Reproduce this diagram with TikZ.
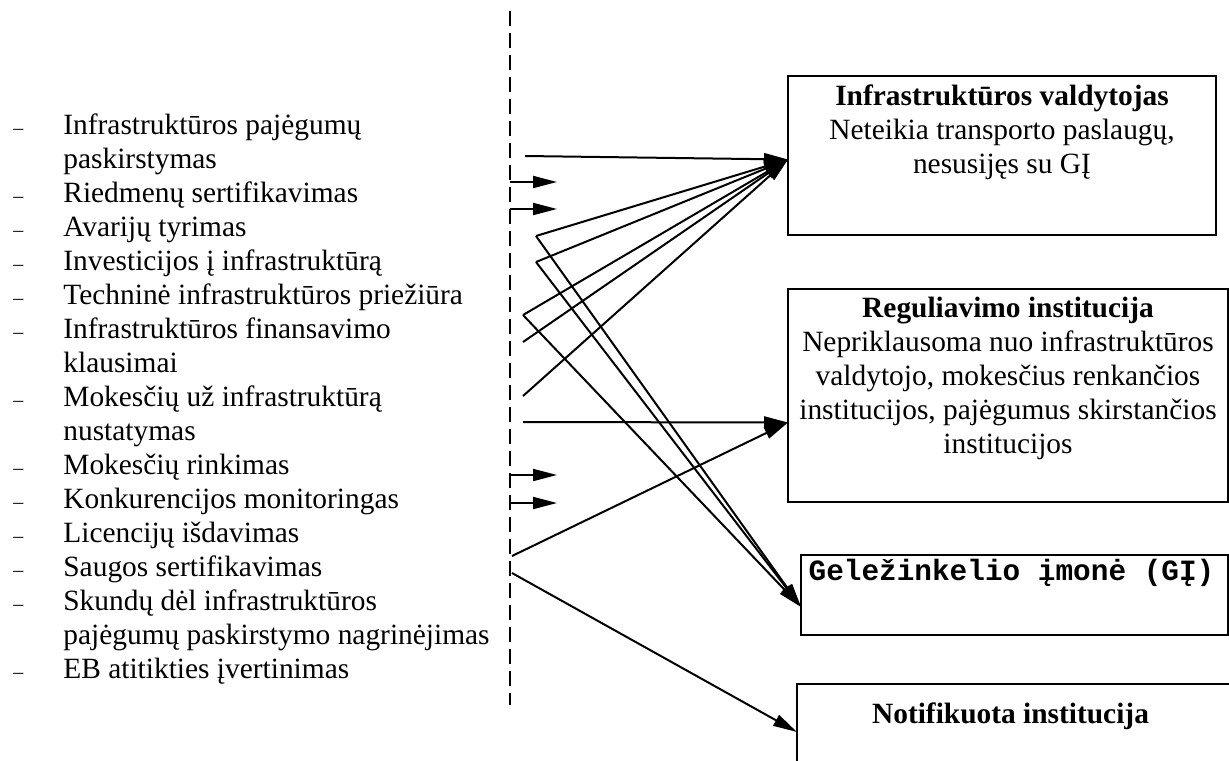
\documentclass[tikz,border=0pt]{standalone}
\usepackage{fontspec}
\setmainfont{Liberation Serif}
\setmonofont{Liberation Mono}
\usetikzlibrary{arrows.meta}

\newcommand{\itemlines}[1]{\begin{tabular}[t]{@{}l@{}}#1\end{tabular}}
\newcommand{\boxlines}[1]{\begin{tabular}[t]{@{}c@{}}#1\end{tabular}}

\tikzset{
  inst/.style={draw, line width=1.2pt, outer sep=0pt, inner sep=0pt},
  txt/.style={font=\fontsize{14.7}{17}\selectfont, inner sep=0pt, anchor=base},
  item/.style={txt, anchor=base west},
  bullet/.style={font=\fontsize{10}{12}\selectfont, inner sep=0pt, anchor=base west},
  arr/.style={-{Triangle[length=12pt,width=6pt]}, line width=1pt},
}

\begin{document}
\begin{tikzpicture}[x=0.5pt,y=-0.5pt]

  % page frame, in pixels of the original
  \useasboundingbox (0,0) rectangle (1229,760);
  \clip (0,0) rectangle (1229,760);

  % dashed separator
  \draw [line width=1pt, dash pattern=on 7.5pt off 3.5pt] (510,11) -- (510,705);

  % list of functions
  \foreach \y/\t [count=\i] in {
      134/{\itemlines{Infrastruktūros pajėgumų\\paskirstymas}},
      202/Riedmenų sertifikavimas,
      236/Avarijų tyrimas,
      270/Investicijos į infrastruktūrą,
      304/Techninė infrastruktūros priežiūra,
      338/{\itemlines{Infrastruktūros finansavimo\\klausimai}},
      406/{\itemlines{Mokesčių už infrastruktūrą\\nustatymas}},
      474/Mokesčių rinkimas,
      508/Konkurencijos monitoringas,
      542/Licencijų išdavimas,
      576/Saugos sertifikavimas,
      610/{\itemlines{Skundų dėl infrastruktūros\\pajėgumų paskirstymo nagrinėjimas}},
      678/EB atitikties įvertinimas} {
    \node [bullet] (d\i) at (13,\y) {–};
    \node [item] (f\i) at (63,\y) {\t};
  }

  % institutions
  \node [inst, minimum width=214pt, minimum height=79.5pt] (iv) at (1002,155.5) {};
  \node [txt] (ivt) at ([yshift=-14.5pt]iv.north)
    {\boxlines{\textbf{Infrastruktūros valdytojas}\\Neteikia transporto paslaugų,\\nesusijęs su GĮ}};

  \node [inst, minimum width=220pt, minimum height=106.5pt] (ri) at (1008,395.5) {};
  \node [txt] (rit) at ([yshift=-14pt]ri.north)
    {\boxlines{\textbf{Reguliavimo institucija}\\Nepriklausoma nuo infrastruktūros\\valdytojo, mokesčius renkančios\\institucijos, pajėgumus skirstančios\\institucijos}};

  \node [inst, minimum width=213.5pt, minimum height=40pt] (ge) at (1014.5,595) {};
  \node [txt] (get) at ([xshift=-1.5pt,yshift=-12.5pt]ge.north)
    {\ttfamily\bfseries Geležinkelio įmonė (GĮ)};

  \node [inst, minimum width=221.5pt, minimum height=48pt] (no) at (1018.5,732) {};
  \node [txt] (not) at ([xshift=-4pt,yshift=-19.5pt]no.north) {\textbf{Notifikuota institucija}};

  % arrow ends on the boxes
  \coordinate (ivin) at ([yshift=-2pt]iv.west);
  \coordinate (riin) at ([yshift=-13.5pt]ri.west);
  \coordinate (gein) at ([yshift=-6pt]ge.west);
  \coordinate (noin) at (no.west);

  % arrow starts
  \coordinate (a1) at (525,156);
  \coordinate (p1) at (536,236);
  \coordinate (p2) at (536,262);
  \coordinate (p3) at (523,315);
  \coordinate (p4) at (523,342);
  \coordinate (p5) at (523,396);
  \coordinate (p6) at (523,422);
  \coordinate (p7) at (512,556);
  \coordinate (p8) at (512,573);

  % short arrows off the separator
  \foreach \y [count=\i] in {182,209,475,503} {
    \coordinate (s\i) at (510,\y);
    \coordinate (e\i) at (557,\y);
    \draw [arr] (s\i) -- (e\i);
  }

  % connectors
  \draw [arr] (a1) -- (ivin);
  \foreach \p in {p1,p2,p3,p4,p5}
    \draw [arr] (\p) -- (ivin);
  \foreach \p in {p1,p2,p3}
    \draw [arr] (\p) -- (gein);
  \draw [arr] (p6) -- (riin);
  \draw [arr] (p7) -- (riin);
  \draw [arr] (p8) -- (noin);

\end{tikzpicture}
\end{document}
